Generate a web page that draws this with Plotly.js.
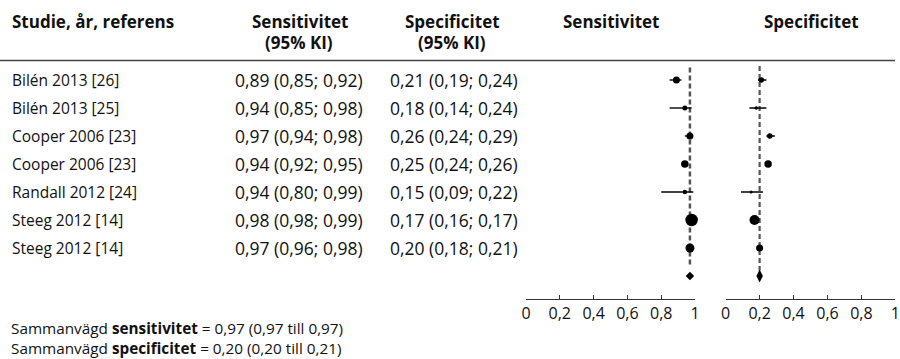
<!DOCTYPE html>
<html>
<head>
<meta charset="utf-8">
<script src="https://cdn.plot.ly/plotly-3.0.1.min.js"></script>
<style>html,body{margin:0;padding:0;background:#fff;}#chart{width:900px;height:359px;}</style>
</head>
<body>
<div id="chart"></div>
<script>
// ---------- data ----------
const studies = ["Bilén 2013 [26]", "Bilén 2013 [25]", "Cooper 2006 [23]", "Cooper 2006 [23]", "Randall 2012 [24]", "Steeg 2012 [14]", "Steeg 2012 [14]"];
const sensEst = [0.89, 0.94, 0.97, 0.94, 0.94, 0.98, 0.97];
const sensLo  = [0.85, 0.85, 0.94, 0.92, 0.80, 0.98, 0.96];
const sensHi  = [0.92, 0.98, 0.98, 0.95, 0.99, 0.99, 0.98];
const specEst = [0.21, 0.18, 0.26, 0.25, 0.15, 0.17, 0.20];
const specLo  = [0.19, 0.14, 0.24, 0.24, 0.09, 0.16, 0.18];
const specHi  = [0.24, 0.24, 0.29, 0.26, 0.22, 0.17, 0.21];
const pooledSens = {est: 0.97, lo: 0.97, hi: 0.97};
const pooledSpec = {est: 0.20, lo: 0.20, hi: 0.21};
const tickVals = [0, 0.2, 0.4, 0.6, 0.8, 1];
const tickText = ["0", "0,2", "0,4", "0,6", "0,8", "1"];

// ---------- style ----------
const sensMarkerSize = [7, 5, 7, 7.5, 4.5, 12.5, 9];
const specMarkerSize = [5.5, 3.5, 5.5, 7.5, 3, 10, 7];
const FONT = "'Open Sans', 'Noto Sans', sans-serif";
const TXT = "#111";
const W = 900, H = 359;
const px = v => v / W;
const py = v => 1 - v / H;
const fmt = v => v.toFixed(2).replace('.', ',');
const rows = studies.map((_, i) => i);
const pooledRow = studies.length;

function forestTrace(est, lo, hi, sizes, xa) {
  return {
    type: 'scatter', mode: 'markers', xaxis: xa, yaxis: 'y',
    x: est, y: rows,
    marker: {color: '#000', size: sizes, opacity: 1, line: {width: 0}},
    error_x: {type: 'data', symmetric: false,
      array: est.map((e, i) => hi[i] - e),
      arrayminus: est.map((e, i) => e - lo[i]),
      color: '#000', thickness: 1.4, width: 0},
    hoverinfo: 'skip', showlegend: false, cliponaxis: false
  };
}

const traces = [
  forestTrace(sensEst, sensLo, sensHi, sensMarkerSize, 'x'),
  forestTrace(specEst, specLo, specHi, specMarkerSize, 'x2'),
  {type: 'scatter', mode: 'markers', xaxis: 'x', yaxis: 'y', x: [pooledSens.est], y: [pooledRow],
   marker: {symbol: 'diamond', size: 6.5, color: '#000', opacity: 1}, showlegend: false, hoverinfo: 'skip', cliponaxis: false},
  {type: 'scatter', mode: 'markers', xaxis: 'x2', yaxis: 'y', x: [pooledSpec.est], y: [pooledRow],
   marker: {symbol: 'diamond-tall', size: 9.3, color: '#000', opacity: 1}, showlegend: false, hoverinfo: 'skip', cliponaxis: false}
];

const annotations = [];
function ann(text, x, y, xanchor, size, opts) {
  annotations.push(Object.assign({text: text, x: x, y: y, xref: 'paper', yref: 'paper',
    xanchor: xanchor, yanchor: 'middle', showarrow: false,
    font: {family: FONT, size: size, color: TXT}}, opts || {}));
}
// headers
ann('<b>Studie, år, referens</b>', px(10), py(21), 'left', 17);
ann('<b>Sensitivitet</b>', px(300), py(21), 'center', 17);
ann('<b>(95% KI)</b>', px(299), py(42), 'center', 17);
ann('<b>Specificitet</b>', px(453), py(21), 'center', 17);
ann('<b>(95% KI)</b>', px(452), py(42), 'center', 17);
ann('<b>Sensitivitet</b>', px(611), py(21), 'center', 17);
ann('<b>Specificitet</b>', px(811), py(21), 'center', 17);
// rows
rows.forEach(i => {
  ann(studies[i], px(10), i, 'left', 15.5, {yref: 'y'});
  ann(fmt(sensEst[i]) + ' (' + fmt(sensLo[i]) + '; ' + fmt(sensHi[i]) + ')', px(299), i, 'center', 17.5, {yref: 'y'});
  ann(fmt(specEst[i]) + ' (' + fmt(specLo[i]) + '; ' + fmt(specHi[i]) + ')', px(454), i, 'center', 17.5, {yref: 'y'});
});
// footer (two lines in one text block)
const footerText =
  'Sammanvägd <b>sensitivitet</b> = ' + fmt(pooledSens.est) + ' (' + fmt(pooledSens.lo) + ' till ' + fmt(pooledSens.hi) + ')' +
  '<br>' +
  'Sammanvägd <b>specificitet</b> = ' + fmt(pooledSpec.est) + ' (' + fmt(pooledSpec.lo) + ' till ' + fmt(pooledSpec.hi) + ')';
ann(footerText, px(10), py(359), 'left', 15.3, {yanchor: 'bottom', align: 'left', borderpad: 0});

const shapes = [
  {type: 'line', xref: 'paper', yref: 'paper', x0: 0, x1: px(895), y0: py(60.5), y1: py(60.5),
   line: {color: '#444', width: 1.5}},
  {type: 'line', xref: 'x', yref: 'y', x0: pooledSens.est, x1: pooledSens.est, y0: -0.45, y1: 6.7,
   line: {color: '#555', width: 2.5, dash: '5px,3px'}, layer: 'below'},
  {type: 'line', xref: 'x2', yref: 'y', x0: pooledSpec.est, x1: pooledSpec.est, y0: -0.5, y1: 6.8,
   line: {color: '#555', width: 2.2, dash: '5px,3px'}, layer: 'below'}
];

const axisCommon = {
  range: [0, 1], showgrid: false, zeroline: false, showline: true, linecolor: '#333', linewidth: 1,
  ticks: 'inside', ticklen: 4, tickwidth: 1, tickcolor: '#333',
  tickvals: tickVals, ticktext: tickText, anchor: 'y',
  tickfont: {family: FONT, size: 16, color: TXT}, fixedrange: true
};

const layout = {
  width: W, height: H,
  margin: {l: 0, r: 0, t: 0, b: 0, pad: 0},
  paper_bgcolor: '#fff', plot_bgcolor: 'rgba(0,0,0,0)',
  showlegend: false,
  xaxis: Object.assign({}, axisCommon, {domain: [px(526), px(695)]}),
  xaxis2: Object.assign({}, axisCommon, {domain: [px(725.7), px(895.3)]}),
  yaxis: {domain: [py(299), 1], range: [(299 - 80) / 28, -80 / 28], visible: false,
          showgrid: false, zeroline: false, fixedrange: true},
  annotations: annotations,
  shapes: shapes,
  font: {family: FONT, color: TXT}
};

Plotly.newPlot('chart', traces, layout, {displayModeBar: false, staticPlot: true});
</script>
</body>
</html>
